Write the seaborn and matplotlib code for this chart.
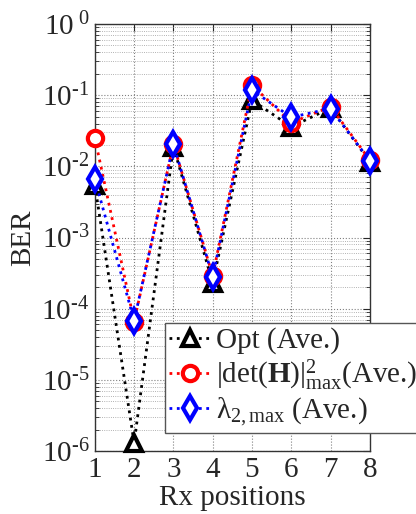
import numpy as np
import pandas as pd
import matplotlib
matplotlib.use("Agg")
import matplotlib.pyplot as plt
import seaborn as sns

# ── Data ───────────────────────────────────────────
rx_positions = [1, 2, 3, 4, 5, 6, 7, 8]
ber_opt = [5.5e-3, 1.3e-6, 1.9e-2, 2.3e-4, 8.5e-2, 3.6e-2, 6.6e-2, 1.17e-2]
ber_det = [2.5e-2, 6.6e-5, 2.05e-2, 2.9e-4, 1.39e-1, 4.1e-2, 6.9e-2, 1.23e-2]
ber_lam = [6.6e-3, 6.8e-5, 2.05e-2, 2.8e-4, 1.18e-1, 4.9e-2, 6.5e-2, 1.2e-2]

labels = ["Opt (Ave.)",
          r"|det($\mathbf{H}$)|$^{2}_{\mathrm{max}}$(Ave.)",
          "λ" + r"$_{\mathrm{2,max}}$ (Ave.)"]
colors = ["black", "red", "blue"]
markers = ["^", "o", "d"]
ytick_labels = [r"10$^{\text{-6}}$", r"10$^{\text{-5}}$", r"10$^{\text{-4}}$",
                r"10$^{\text{-3}}$", r"10$^{\text{-2}}$", r"10$^{\text{-1}}$",
                r"10$^{\ 0}$"]

sns.set_style("white")
plt.rcParams["font.family"] = ["Liberation Serif", "DejaVu Serif"]
plt.rcParams["mathtext.fontset"] = "custom"
plt.rcParams["mathtext.rm"] = "Liberation Serif"
plt.rcParams["mathtext.it"] = "Liberation Serif:italic"
plt.rcParams["mathtext.bf"] = "Liberation Serif:bold"

fig = plt.figure(figsize=(4.16, 5.14), dpi=100)
ax = fig.add_axes([0.228, 0.1226, 0.661, 0.8306])

for ys, lab, c, m in zip([ber_opt, ber_det, ber_lam], labels, colors, markers):
    sns.lineplot(x=rx_positions, y=ys, ax=ax, color=c, linestyle=":",
                 linewidth=2, marker=m, markersize=11 if m != "d" else 12,
                 markerfacecolor="white", markeredgecolor=c,
                 markeredgewidth=3, label=lab, clip_on=False, zorder=3)

ax.set_yscale("log")
ax.set_ylim(1e-6, 1)
ax.set_xlim(1, 8)
ax.set_xticks(rx_positions)
ax.set_yticks([10.0 ** k for k in range(-6, 1)])
ax.set_yticklabels(ytick_labels)
ax.tick_params(axis="both", which="both", direction="in", labelsize=21,
               top=True, right=True)
ax.tick_params(axis="y", which="minor", left=True, right=True, length=3)
ax.tick_params(axis="both", which="major", length=5, pad=4)

ax.grid(True, which="major", linestyle=":", color="gray", linewidth=0.8)
ax.grid(True, which="minor", axis="y", linestyle=":", color="#999999", linewidth=0.6)
for s in ax.spines.values():
    s.set_color("#333333")
    s.set_linewidth(1)

ax.set_xlabel("Rx positions", fontsize=21, labelpad=2)
ax.set_ylabel("BER", fontsize=21, labelpad=4)

leg = ax.legend(loc="upper left", bbox_to_anchor=(0.255, 0.30),
                borderaxespad=0, fontsize=21, frameon=True, fancybox=False,
                framealpha=1, edgecolor="#555555", handlelength=1.4,
                handletextpad=0.2, labelspacing=0.1, borderpad=0.15)
leg.get_frame().set_linewidth(1)

fig.savefig("out.png", dpi=100)
